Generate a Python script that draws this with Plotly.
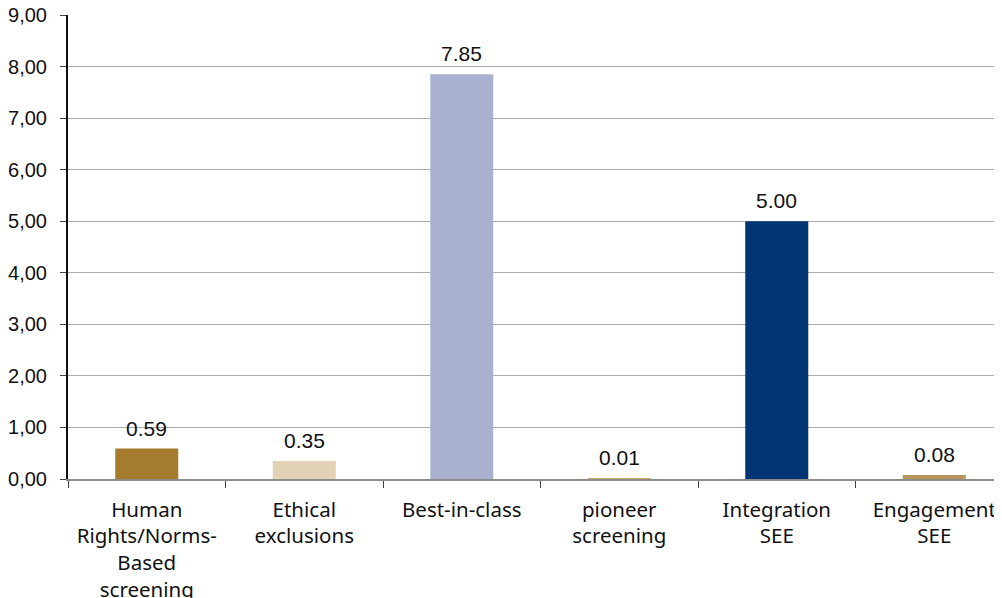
import plotly.graph_objects as go

categories = ["Human<br>Rights/Norms-<br>Based<br>screening", "Ethical<br>exclusions", "Best-in-class",
              "pioneer<br>screening", "Integration<br>SEE", "Engagement<br>SEE"]
values = [0.59, 0.35, 7.85, 0.01, 5.00, 0.08]
value_labels = ["0.59", "0.35", "7.85", "0.01", "5.00", "0.08"]
colors = ["#A57C2E", "#E3D3B6", "#AAB1CE", "#C9A86A", "#003473", "#B8955A"]
y_ticks = [0, 1, 2, 3, 4, 5, 6, 7, 8, 9]

fig = go.Figure()
fig.add_trace(go.Bar(x=categories, y=values, marker=dict(color=colors, line=dict(width=0)),
                     width=0.4, showlegend=False, hoverinfo="skip"))

for c, v, t in zip(categories, values, value_labels):
    fig.add_annotation(x=c, y=v, text=t, showarrow=False, yanchor="bottom", yshift=7,
                       font=dict(family="Liberation Sans, Arial", size=21, color="#111"))

fig.update_layout(
    width=994, height=590,
    margin=dict(l=60, r=0, t=7, b=119),
    paper_bgcolor="white", plot_bgcolor="white",
    separators=", ",
    xaxis=dict(type="category", range=[-0.5, 5.43], showline=True, linecolor="#8c8c8c", linewidth=2,
               ticks="outside", tickson="boundaries", ticklen=7, tickcolor="#444", tickwidth=1,
               showgrid=False, zeroline=False, automargin=False, ticklabelstandoff=11,
               ticklabeloverflow="allow",
               tickfont=dict(family="Noto Sans", size=20.5, color="#111")),
    yaxis=dict(range=[0, 9], tickvals=y_ticks, tickformat=".2f", showline=True, linecolor="#111",
               linewidth=2, ticks="outside", ticklen=6, tickcolor="#444", showgrid=True,
               gridcolor="#ababab", gridwidth=1, zeroline=False, ticklabelstandoff=9, automargin=False,
               ticklabeloverflow="allow",
               tickfont=dict(family="Liberation Sans, Arial", size=20, color="#111")),
)

fig.write_html("out.html")
